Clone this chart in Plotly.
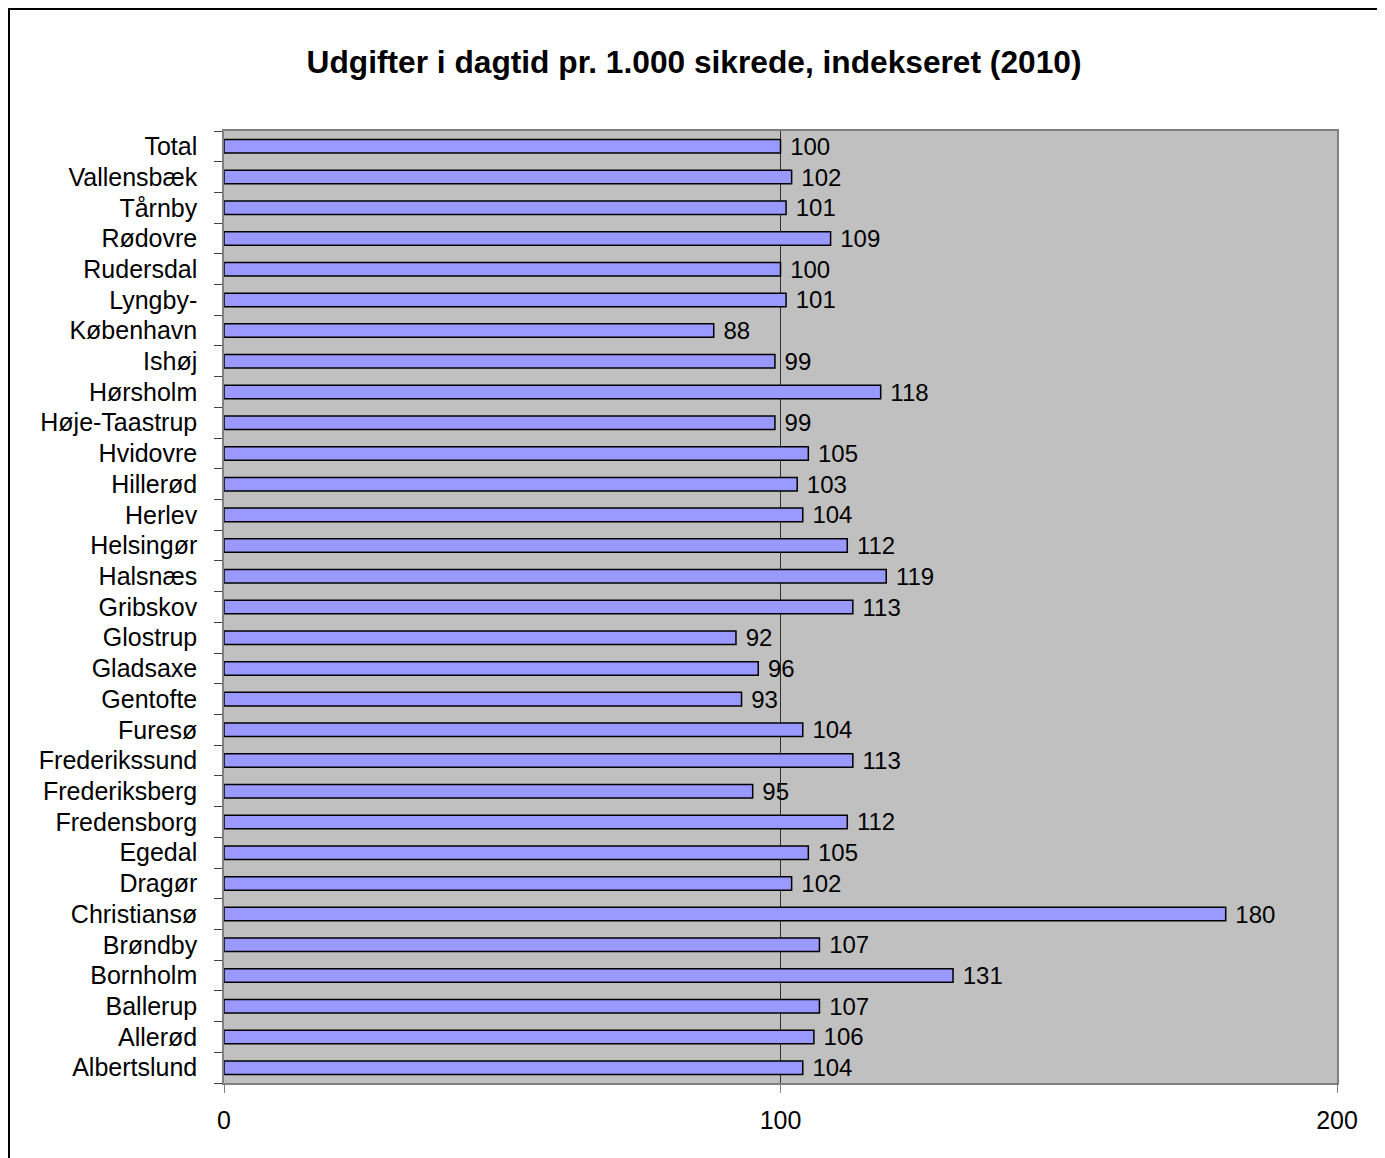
import plotly.graph_objects as go

categories = ["Total", "Vallensbæk", "Tårnby", "Rødovre", "Rudersdal", "Lyngby-",
              "København", "Ishøj", "Hørsholm", "Høje-Taastrup", "Hvidovre", "Hillerød",
              "Herlev", "Helsingør", "Halsnæs", "Gribskov", "Glostrup", "Gladsaxe",
              "Gentofte", "Furesø", "Frederikssund", "Frederiksberg", "Fredensborg",
              "Egedal", "Dragør", "Christiansø", "Brøndby", "Bornholm", "Ballerup",
              "Allerød", "Albertslund"]
values = [100, 102, 101, 109, 100, 101, 88, 99, 118, 99, 105, 103, 104, 112, 119, 113,
          92, 96, 93, 104, 113, 95, 112, 105, 102, 180, 107, 131, 107, 106, 104]
x_ticks = [0, 100, 200]
title_text = "Udgifter i dagtid pr. 1.000 sikrede, indekseret (2010)"

FONT = "Liberation Sans, Arial, sans-serif"

# page body has an 8px margin; figure sized/margined to compensate
W, H = 1377, 1150
L, R, T, B = 216, 48, 123, 75
PW = W - L - R
PH = H - T - B

fig = go.Figure(go.Bar(
    y=categories, x=values, orientation="h",
    marker=dict(color="#9999FF", line=dict(color="black", width=1.5)),
    text=["\u00a0" + str(v) for v in values],
    textposition="outside", cliponaxis=False, constraintext="none",
    textfont=dict(family=FONT, size=24, color="black"),
    hoverinfo="x+y",
))

fig.update_layout(
    width=W, height=H,
    margin=dict(l=L, r=R, t=T, b=B),
    paper_bgcolor="white", plot_bgcolor="#C0C0C0",
    bargap=0.56, showlegend=False,
    font=dict(family=FONT, size=25, color="black"),
    title=dict(text="<b>" + title_text + "</b>", x=(694 - 8) / W, xanchor="center",
               y=1 - (62 - 8) / H, yanchor="middle", yref="container",
               font=dict(family=FONT, size=31.7, color="black")),
    xaxis=dict(range=[0, 200], tickvals=x_ticks, ticks="outside", ticklen=8,
               tickcolor="#808080", showgrid=True, gridcolor="#303030", gridwidth=1,
               showline=True, linecolor="#808080", linewidth=1.5, mirror=True,
               zeroline=False, ticklabelstandoff=6,
               tickfont=dict(family=FONT, size=25, color="black")),
    yaxis=dict(autorange="reversed", ticks="outside", ticklen=8, tickcolor="#404040",
               tickmode="array", tickvals=categories, ticktext=categories,
               tickson="boundaries", showgrid=False, showline=True,
               linecolor="#808080", linewidth=1.5, mirror=True,
               ticklabelstandoff=20,
               tickfont=dict(family=FONT, size=25, color="black")),
    shapes=[dict(type="rect", xref="paper", yref="paper",
                 x0=(1 - L) / PW, x1=(1370 - L) / PW,
                 y0=-(B + 20) / PH, y1=1 + (T - 1) / PH,
                 line=dict(color="black", width=2), fillcolor="rgba(0,0,0,0)",
                 layer="below")],
)

fig.write_html("out.html")
